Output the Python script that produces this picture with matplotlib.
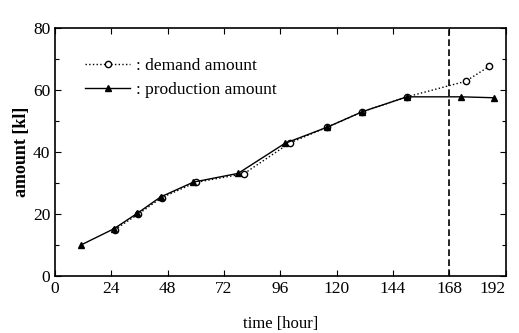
import matplotlib
matplotlib.use("Agg")
import matplotlib.pyplot as plt
from matplotlib.ticker import MultipleLocator

plt.rcParams['font.family'] = ['Liberation Serif', 'DejaVu Serif']

# production (filled triangles, solid line)
prod_hours = [11, 25, 35, 45, 59, 78, 98, 116, 131, 150, 173, 187]
prod_amount = [10, 15.2, 20.2, 25.5, 30.3, 33.1, 42.8, 48.0, 53.0, 57.8, 57.8, 57.5]

# demand (open circles, dotted line)
dem_hours = [25.5, 35.5, 45.5, 60, 80.5, 100, 116, 131, 150, 175, 185]
dem_amount = [15.0, 20.0, 25.3, 30.2, 33.0, 42.9, 48.0, 53.0, 57.8, 62.8, 67.6]

fig = plt.figure(figsize=(5.19, 3.33), dpi=100)
ax = fig.add_axes([0.106, 0.171, 0.868, 0.745])

ax.plot(dem_hours, dem_amount, color='black', linestyle=':', linewidth=1,
        marker='o', markersize=4.5, markerfacecolor='white', markeredgewidth=1,
        label=': demand amount')
ax.plot(prod_hours, prod_amount, color='black', linestyle='-', linewidth=1,
        marker='^', markersize=5, markerfacecolor='black',
        label=': production amount')

ax.axvline(168, color='black', linestyle='--', linewidth=1.2, dashes=(4, 2))

ax.set_xlim(0, 192)
ax.set_ylim(0, 80)
ax.set_xticks(range(0, 193, 24))
ax.set_yticks(range(0, 81, 20))
ax.yaxis.set_minor_locator(MultipleLocator(10))
ax.tick_params(direction='in', top=True, right=True, labelsize=12.5, length=4, width=0.8)
ax.tick_params(which='minor', direction='in', right=True, length=3, width=0.8)
for s in ax.spines.values():
    s.set_linewidth(1.2)
# keep the last x label inside the figure
ax.get_xticklabels()[-1].set_horizontalalignment('right')
ax.get_xticklabels()[-1].set_x(192)

ax.set_xlabel('time [hour]', fontsize=12, labelpad=14)
ax.set_ylabel('amount [kl]', fontsize=13, fontweight='bold', labelpad=2)

leg = ax.legend(loc='upper left', frameon=False, fontsize=12.5, handlelength=2.6,
                handletextpad=0.3, borderaxespad=0.3, labelspacing=0.45,
                bbox_to_anchor=(0.04, 0.93))

fig.savefig('out.png', dpi=100)
